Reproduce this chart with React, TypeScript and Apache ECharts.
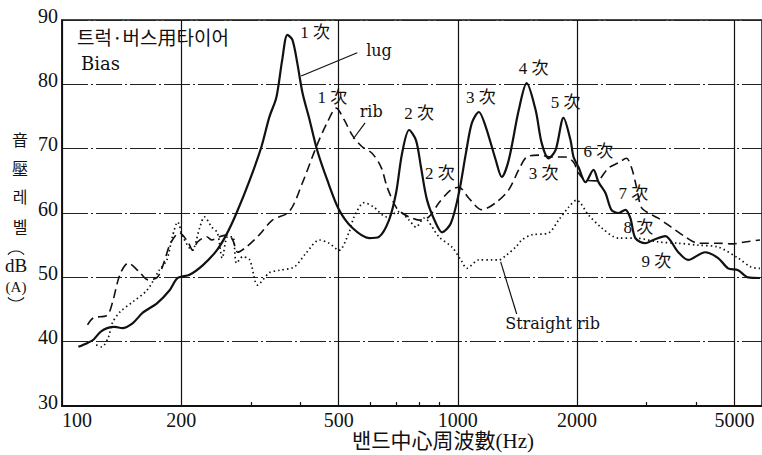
import React, { useEffect, useRef } from 'react';
import * as echarts from 'echarts';

// ---- data (frequency in Hz, level in dB(A)) ----
const lugFreq = [
  110, 116, 120, 125, 130, 136, 142, 151, 160, 174,
  187, 196, 210, 227, 246, 260, 276, 298, 319, 334,
  348, 360, 371, 382, 393, 405, 422, 441, 468, 501,
  541, 597, 632, 670, 698, 723, 753, 784, 807, 836,
  880, 912, 960, 1006, 1048, 1085, 1130, 1176, 1247, 1291,
  1344, 1425, 1492, 1572, 1628, 1695, 1766, 1849, 1926, 1960,
  2018, 2101, 2201, 2266, 2360, 2443, 2544, 2650, 2728, 2808,
  2976, 3116, 3341, 3604, 3818, 4214, 4545, 4815, 5104, 5408,
  5797,
];
const lugDb = [
  39.2, 39.8, 40.3, 41.5, 42.1, 42.3, 42.1, 42.9, 44.5, 46.0,
  48.0, 49.9, 50.4, 51.9, 54.2, 56.6, 60.0, 65.1, 70.3, 74.9,
  78.0, 83.8, 87.7, 86.9, 83.3, 78.7, 74.5, 69.8, 65.1, 60.5,
  57.7, 56.1, 56.3, 58.9, 63.1, 69.3, 72.9, 71.3, 67.1, 62.0,
  58.4, 57.0, 58.4, 63.1, 69.3, 74.0, 75.7, 73.4, 68.2, 65.6,
  68.2, 76.0, 80.2, 76.0, 70.9, 68.5, 69.8, 74.8, 71.3, 68.7,
  67.1, 64.8, 66.7, 64.8, 63.1, 60.5, 60.0, 60.5, 59.2, 56.1,
  55.3, 55.8, 56.4, 53.9, 52.7, 53.9, 53.0, 51.4, 51.1, 50.0,
  49.9,
];

const ribFreq = [
  116, 120, 130, 134, 140, 147, 157, 165, 174, 180,
  187, 194, 198, 208, 214, 220, 232, 239, 250, 262,
  270, 278, 292, 315, 340, 375, 405, 439, 468, 493,
  516, 541, 573, 607, 640, 663, 698, 723, 753, 798,
  845, 896, 960, 1006, 1066, 1150, 1247, 1344, 1425, 1492,
  1600, 1726, 1871, 1960, 2018, 2101, 2240, 2401, 2544, 2666,
  2744, 2808, 2907, 3028, 3208, 3459, 3752, 4047, 4545, 4957,
  5315, 5797,
];
const ribDb = [
  42.6, 43.7, 44.1, 46.0, 50.4, 52.2, 50.8, 49.6, 50.0, 51.9,
  55.0, 56.6, 56.9, 55.5, 54.2, 55.5, 56.3, 55.8, 56.3, 56.6,
  55.8, 53.9, 54.7, 56.6, 58.9, 60.2, 64.7, 70.3, 74.1, 76.3,
  74.5, 72.1, 70.3, 69.3, 67.1, 64.0, 60.9, 60.0, 59.4, 58.9,
  59.4, 61.6, 63.6, 64.0, 62.3, 60.5, 61.6, 63.6, 66.7, 68.7,
  69.0, 68.7, 68.7, 67.9, 66.2, 65.1, 65.0, 67.0, 67.8, 68.5,
  67.1, 64.8, 60.9, 60.0, 59.2, 57.8, 56.3, 55.3, 55.3, 55.2,
  55.5, 55.8,
];

const straightFreq = [
  122, 126, 131, 134, 140, 151, 164, 176, 184, 190,
  196, 202, 213, 223, 229, 239, 247, 254, 262, 270,
  276, 286, 298, 312, 334, 354, 386, 414, 447, 473,
  501, 531, 547, 580, 614, 659, 710, 753, 784, 821,
  896, 966, 1018, 1054, 1130, 1218, 1269, 1329, 1400, 1450,
  1537, 1695, 1797, 1904, 1994, 2138, 2306, 2544, 2808, 3208,
  3604, 4047, 4545, 5104, 5502, 5797,
];
const straightDb = [
  39.5, 39.2, 40.7, 42.9, 44.6, 46.2, 48.0, 51.1, 52.7, 56.3,
  58.6, 56.3, 54.2, 57.8, 59.4, 57.8, 56.9, 53.0, 56.3, 56.3,
  52.2, 53.2, 52.7, 48.8, 50.7, 51.1, 51.6, 53.8, 55.8, 55.3,
  54.2, 57.0, 59.4, 61.6, 60.9, 59.4, 60.2, 58.9, 57.8, 59.2,
  56.3, 54.7, 52.7, 51.4, 52.7, 52.7, 52.7, 53.5, 54.7, 55.8,
  56.6, 56.9, 58.9, 60.9, 62.0, 59.7, 57.7, 56.1, 56.1, 55.5,
  55.3, 55.0, 54.7, 53.0, 51.6, 51.4,
];

// axis ticks
const majorTicks = [100, 200, 500, 1000, 2000, 5000];
const minorTicks = [300, 400, 600, 700, 800, 900, 3000, 4000];
const yMin = 30;
const yMax = 90;
const yStep = 10;

// annotations (anchored in data space)
const noteTexts = ['1 次', 'lug', '1 次', 'rib', '2 次', '2 次', '3 次', '4 次', '5 次', '3 次', '6 次', '7 次', '8 次', '9 次', 'Straight rib'];
const noteFreq = [436, 632, 482, 604, 798, 901, 1143, 1554, 1871, 1647, 2266, 2776, 2858, 3171, 1735];
const noteDb = [88.0, 85.3, 78.0, 75.7, 75.5, 66.1, 77.9, 82.5, 77.1, 66.2, 69.5, 63.1, 57.8, 52.5, 42.9];

const leaderFromFreq = [557, 583, 1408];
const leaderFromDb = [84.9, 74.0, 44.3];
const leaderToFreq = [402, 544, 1283];
const leaderToDb = [81.3, 71.5, 52.4];

const LOG = (f: number) => Math.log10(f);
const X_MIN = 2;
const X_MAX = 3.7683;

const INK = '#111';
const SERIF = "'Liberation Serif', 'Noto Sans CJK KR', serif";
const CJK = "'Noto Sans CJK KR', sans-serif";
const LATIN = "'DejaVu Serif', serif";

function buildOption() {
  const latinNotes = new Set(['lug', 'rib', 'Straight rib']);
  const markPointData = noteTexts.map((t, i) => ({
    name: t,
    coord: [LOG(noteFreq[i]), noteDb[i]],
    label: {
      fontFamily: latinNotes.has(t) ? LATIN : SERIF,
      fontSize: latinNotes.has(t) ? 16 : 17,
    },
  }));
  const markLineData = leaderFromFreq.map((f, i) => [
    { coord: [LOG(f), leaderFromDb[i]] },
    { coord: [LOG(leaderToFreq[i]), leaderToDb[i]] },
  ]);

  const text = (t: string, x: number, y: number, font: string, size: number, align = 'center') => ({
    type: 'text',
    x,
    y,
    silent: true,
    style: {
      text: t,
      fill: INK,
      fontSize: size,
      fontFamily: font,
      textAlign: align,
      align,
      textVerticalAlign: 'middle',
      verticalAlign: 'middle',
    },
  });

  return {
    animation: false,
    backgroundColor: '#fff',
    grid: {
      left: 62,
      top: 20,
      right: -2,
      bottom: 49,
      show: true,
      borderColor: INK,
      borderWidth: 1.5,
      backgroundColor: 'transparent',
    },
    xAxis: [
      {
        type: 'value',
        min: X_MIN,
        max: X_MAX,
        position: 'bottom',
        axisLine: { show: true, onZero: false, lineStyle: { color: INK, width: 2 } },
        axisTick: { show: false, customValues: majorTicks.map(LOG) },
        axisLabel: {
          customValues: majorTicks.map(LOG),
          formatter: (v: number) => String(Math.round(Math.pow(10, v))),
          fontSize: 20,
          fontFamily: SERIF,
          color: INK,
          margin: 4,
          alignMinLabel: 'left',
        },
        splitLine: { show: true, lineStyle: { color: INK, width: 1.2 } },
      },
      {
        type: 'value',
        min: X_MIN,
        max: X_MAX,
        position: 'bottom',
        axisLine: { show: false },
        axisTick: {
          show: true,
          inside: true,
          length: 4,
          customValues: minorTicks.map(LOG),
          lineStyle: { color: INK, width: 1.2 },
        },
        axisLabel: { show: false },
        splitLine: { show: false },
      },
    ],
    yAxis: {
      type: 'value',
      min: yMin,
      max: yMax,
      interval: yStep,
      axisLine: { show: true, lineStyle: { color: INK, width: 1.5 } },
      axisTick: { show: false },
      axisLabel: {
        margin: 4,
        formatter: '{a|{value}}',
        rich: {
          a: {
            fontSize: 20,
            fontFamily: SERIF,
            color: INK,
            padding: [0, 0, 9, 0],
          },
        },
      },
      splitLine: { show: true, lineStyle: { color: '#222', width: 1, type: [26, 3, 2, 3] } },
    },
    series: [
      {
        name: 'lug',
        type: 'line',
        data: lugFreq.map((f, i) => [LOG(f), lugDb[i]]),
        symbol: 'none',
        smooth: 0.3,
        lineStyle: { color: INK, width: 2.2 },
        z: 4,
        silent: true,
        markPoint: {
          symbol: 'circle',
          symbolSize: 1,
          silent: true,
          itemStyle: { color: 'rgba(0,0,0,0)' },
          label: { show: true, position: 'inside', color: INK, formatter: '{b}' },
          data: markPointData,
        },
        markLine: {
          symbol: ['none', 'none'],
          silent: true,
          label: { show: false },
          lineStyle: { color: INK, width: 1.2, type: 'solid' },
          data: markLineData,
        },
      },
      {
        name: 'rib',
        type: 'line',
        data: ribFreq.map((f, i) => [LOG(f), ribDb[i]]),
        symbol: 'none',
        smooth: 0.3,
        silent: true,
        lineStyle: { color: INK, width: 1.6, type: [9, 5] },
        z: 3,
      },
      {
        name: 'Straight rib',
        type: 'line',
        data: straightFreq.map((f, i) => [LOG(f), straightDb[i]]),
        symbol: 'none',
        smooth: 0.3,
        silent: true,
        lineStyle: { color: INK, width: 1.7, type: [1.5, 3] },
        z: 3,
      },
    ],
    graphic: [
      text('트럭·버스用타이어', 77, 36, CJK, 19, 'left'),
      text('Bias', 81, 63, LATIN, 18, 'left'),
      text('音', 20, 139, CJK, 16),
      text('壓', 20, 168, CJK, 16),
      text('레', 20, 196, CJK, 16),
      text('벨', 20, 226, CJK, 16),
      {
        type: 'arc',
        silent: true,
        shape: { cx: 16, cy: 262, r: 11, startAngle: -2.4, endAngle: -0.74 },
        style: { stroke: INK, lineWidth: 1.2, fill: 'none' },
      },
      text('dB', 16, 265, SERIF, 19),
      text('(A)', 16, 287, SERIF, 15),
      {
        type: 'arc',
        silent: true,
        shape: { cx: 16, cy: 290, r: 11, startAngle: 0.74, endAngle: 2.4 },
        style: { stroke: INK, lineWidth: 1.2, fill: 'none' },
      },
      text('밴드中心周波數(Hz)', 443, 441, SERIF, 21),
    ],
  };
}

export default function App() {
  const ref = useRef<HTMLDivElement>(null);
  useEffect(() => {
    if (!ref.current) return;
    const chart = echarts.init(ref.current, null, { renderer: 'svg' });
    chart.setOption(buildOption() as any);
    return () => chart.dispose();
  }, []);
  return (
    <div
      ref={ref}
      style={{ position: 'fixed', left: 0, top: 0, width: 762, height: 455, background: '#fff' }}
    />
  );
}
